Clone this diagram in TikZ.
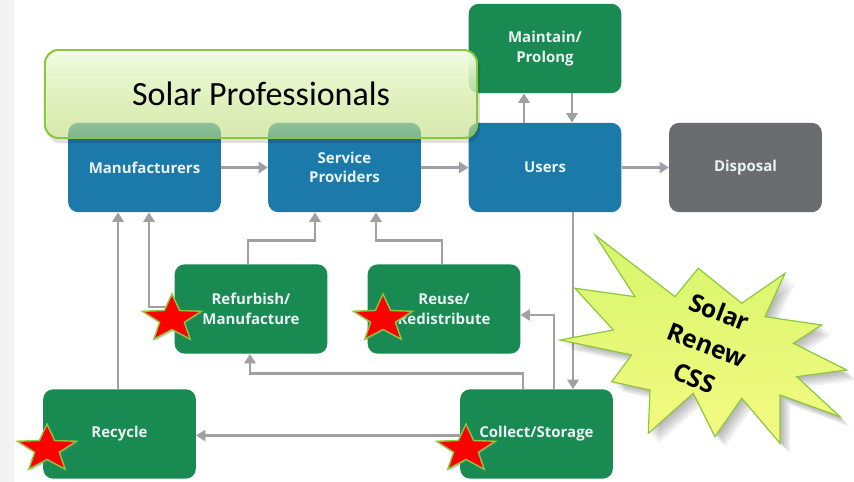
\documentclass[tikz,border=0pt]{standalone}
\usepackage{fontspec}
\setmainfont{Open Sans}
\newfontfamily\calib{Carlito}
\usetikzlibrary{arrows.meta,fadings,shadows,calc}
\definecolor{cblue}{HTML}{1B7AAA}
\definecolor{cgreen}{HTML}{188A52}
\definecolor{cgray}{HTML}{6B6C70}
\definecolor{arr}{HTML}{A0A0A4}
\definecolor{txt}{HTML}{EAF2F5}
\definecolor{lgreen}{HTML}{8CC63E}
\definecolor{sptop}{HTML}{F2FDE6}
\definecolor{spbot}{HTML}{D2F28A}
\definecolor{bursttop}{HTML}{D6F56B}
\definecolor{burstbot}{HTML}{F4FB82}
\tikzfading[name=solarfade, top color=transparent!0, bottom color=transparent!45]
\begin{document}
\begin{tikzpicture}[x=0.03cm, y=-0.03cm,
  box/.style={rounded corners=0.3cm, minimum width=4.58cm, minimum height=2.68cm, inner sep=0pt, align=center, text=txt, font=\bfseries\fontsize{12.8}{16.6}\selectfont},
  bluebox/.style={box, fill=cblue},
  greenbox/.style={box, fill=cgreen},
  graybox/.style={box, fill=cgray},
  conn/.style={draw=arr, line width=2.5pt, -{Triangle[length=8pt,width=9.5pt]}},
  starstyle/.style={fill=red, draw=lgreen, line width=1.2pt, drop shadow={shadow xshift=1.2pt, shadow yshift=-1.4pt, opacity=0.35}},
  burst/.style={insert path={(595,235) -- (675,296.7) -- (698.3,268.3) -- (741.7,303.3) -- (785,273.3) -- (765,316.7) -- (821.7,325) -- (793.3,343.3) -- (846.7,370) -- (796.7,376.7) -- (840,416.7) -- (780,395) -- (780,443.3) -- (741.7,398.3) -- (715,436.7) -- (693.3,393.3) -- (648.3,433.3) -- (650,390) -- (611.7,381.7) -- (631.7,355) -- (560,340) -- (613.3,330) -- (575,288.3) -- (635,296.7) -- cycle}}
]
\newcommand\redstar[2]{\draw[starstyle, shift={(#1,#2)}] (0,-25) -- (-7.64,-8.49) -- (-29.48,-7.73) -- (-12.36,3.24) -- (-18.22,20.23) -- (0,10.5) -- (18.22,20.23) -- (12.36,3.24) -- (29.48,-7.73) -- (7.64,-8.49) -- cycle;}
\useasboundingbox (0,0) rectangle (854,482);
\fill[white] (0,0) rectangle (854,482);
\fill[black!5] (0,0) rectangle (14,482);

% boxes
\node[bluebox] (man) at (144.5,167.5) {Manufacturers};
\node[bluebox] (sp) at (344.5,167.5) {Service\\Providers};
\node[bluebox] (users) at (545,167.5) {Users};
\node[graybox] (disp) at (745.5,167.5) {Disposal};
\node[greenbox] (maint) at (545,48.5) {Maintain/\\Prolong};
\node[greenbox] (refurb) at (251,309) {Refurbish/\\Manufacture};
\node[greenbox] (reuse) at (444,309) {Reuse/\\Redistribute};
\node[greenbox] (recycle) at (119.5,434) {Recycle};
\node[greenbox] (collect) at (536.5,434) {Collect/Storage};

% connectors
\draw[conn] (man.east) -- (sp.west);
\draw[conn] (sp.east) -- (users.west);
\draw[conn] (users.east) -- (disp.west);
\draw[conn] ($(users.north)+(-21,0)$) -- ($(maint.south)+(-21,0)$);
\draw[conn] ($(maint.south)+(27,0)$) -- ($(users.north)+(27,0)$);
\draw[conn] ($(users.south)+(28,0)$) -- ($(collect.north)+(36.5,0)$);
\draw[conn] ($(recycle.north)+(-1.5,0)$) -- ($(man.south)+(-26.5,0)$);
\draw[conn] ($(refurb.west)+(0,-2)$) -| ($(man.south)+(4.5,0)$);
\draw[conn] ($(refurb.north)+(-3,0)$) |- ($(sp.south)+(-29.5,28)$) -- ($(sp.south)+(-29.5,0)$);
\draw[conn] ($(reuse.north)+(-2,0)$) |- ($(sp.south)+(31.5,28)$) -- ($(sp.south)+(31.5,0)$);
\draw[conn] ($(collect.north)+(-13.5,0)$) |- ($(refurb.south)+(-1,20)$) -- ($(refurb.south)+(-1,0)$);
\draw[conn] ($(collect.north)+(17.5,0)$) |- ($(reuse.east)+(0,6)$);
\draw[conn] ($(collect.west)+(0,1.5)$) -- ($(recycle.east)+(0,1.5)$);

% Solar Professionals overlay
\fill[black, opacity=0.12, rounded corners=0.4cm] (47,54) rectangle (480,143);
\shade[top color=sptop, bottom color=spbot, path fading=solarfade, rounded corners=0.4cm] (45,50) rectangle (477,138);
\node[draw=lgreen, line width=1.7pt, rounded corners=0.4cm, minimum width=12.96cm, minimum height=2.64cm, inner sep=0pt, font=\calib\fontsize{29}{34}\selectfont] (solar) at (261,94) {Solar Professionals};

% stars
\redstar{172}{319}
\redstar{383}{319}
\redstar{47}{449}
\redstar{466}{449}

% starburst
\foreach \s in {2,4,6,8,10} {\fill[black, opacity=0.06, shift={(\s,\s)}, burst];}
\shade[top color=bursttop, bottom color=burstbot, draw=lgreen, line width=1pt, burst];
\node[rotate=-21, align=center, font=\bfseries\fontsize{21}{30}\selectfont] (renew) at (707,345) {Solar\\Renew\\CSS};
\end{tikzpicture}
\end{document}
